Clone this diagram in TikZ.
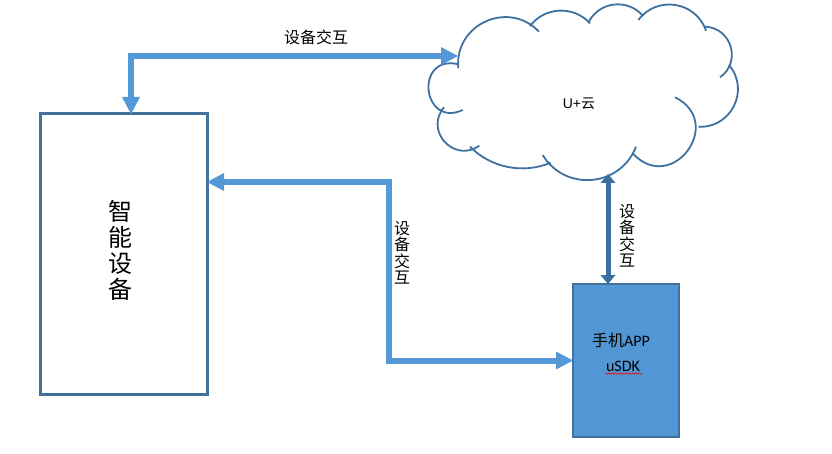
\documentclass[tikz,border=0pt]{standalone}
\usepackage{fontspec}
\setmainfont{Carlito}
\newfontfamily\cjk{Noto Sans CJK SC}
\newfontfamily\arialf{Liberation Sans}
\usetikzlibrary{arrows.meta,decorations.pathmorphing}
\definecolor{boxline}{RGB}{65,113,156}
\definecolor{arrowblue}{RGB}{84,152,215}
\definecolor{appfill}{RGB}{82,151,213}
\definecolor{darkarrow}{RGB}{60,110,160}
\definecolor{cloudcol}{RGB}{62,112,160}
\tikzset{
  devbox/.style={draw=boxline, line width=3pt, fill=white, minimum width=167pt, minimum height=280pt, inner sep=0pt, outer sep=0pt},
  appbox/.style={draw=boxline, line width=2.5pt, fill=appfill, minimum width=106pt, minimum height=153pt, inner sep=0pt, outer sep=0pt},
  bigarrow/.style={draw=arrowblue, line width=6pt, line join=miter,
    {Triangle[length=17pt,width=18pt,line width=0pt]}-{Triangle[length=17pt,width=18pt,line width=0pt]}},
  smallarrow/.style={draw=darkarrow, line width=5pt,
    {Triangle[length=9pt,width=15pt,line width=0pt]}-{Triangle[length=9pt,width=15pt,line width=0pt]}},
  cloudline/.style={draw=cloudcol, line width=1.8pt},
  lbl/.style={inner sep=0pt, font=\cjk\fontsize{16}{16.5}\selectfont, align=center},
}
\begin{document}
\begin{tikzpicture}[x=1pt,y=-1pt]
\useasboundingbox (0,0) rectangle (832,454);

% left device box
\node[devbox] (dev) at (123.5,254) {};
\node[inner sep=0pt, align=center, font=\cjk\fontsize{24}{26}\selectfont] (devtext) at (120,250) {智\\能\\设\\备};

% phone app box
\node[appbox] (app) at (626,360.5) {};
\node[inner sep=0pt, font=\fontsize{16}{18}\selectfont] (apptext) at (621,340.5) {{\cjk 手机}APP};
\node[inner sep=0pt, font=\fontsize{16}{18}\selectfont] (usdk) at (623,366.5) {uSDK};
\coordinate (sq1) at (605,373.5);
\coordinate (sq2) at (642,373.5);
\draw[red, line width=0.6pt, decorate, decoration={snake, amplitude=0.8pt, segment length=3pt}] (sq1) -- (sq2);

% cloud
\node[inner sep=0pt] (cloud) at (585,92) {};
\draw[cloudline] (462.7,110) to[bend left=108, looseness=2.45] (457.3,64);
\draw[cloudline] (479.3,145.7) to[bend left=83, looseness=1.51] (444,107.3);
\draw[cloudline] (550.7,162.7) to[bend left=34, looseness=0.93] (470,146.7);
\draw[cloudline] (636,146.7) to[bend left=64, looseness=1.18] (542.7,155);
\draw[cloudline] (675,97.3) to[bend left=100, looseness=2.06] (633.3,154);
\draw[cloudline] (729,65) to[bend left=67, looseness=1.22] (698.3,126.7);
\draw[cloudline] (705,26.7) to[bend left=71.5, looseness=1.29] (720,77.3);
\draw[cloudline] (638.3,20) to[bend left=62, looseness=1.16] (706,30.7);
\draw[cloudline] (588.3,22.7) to[bend left=57, looseness=1.10] (643,16);
\draw[cloudline] (530,26) to[bend left=50, looseness=1.04] (590,23.3);
\draw[cloudline] (458.3,68.3) to[bend left=71, looseness=1.28] (539,31.7);
\node[inner sep=0pt, font=\arialf\fontsize{14}{16}\selectfont] (cloudtext) at (579,104) {U+{\cjk 云}};

% connectors
\coordinate (cW) at (458,56);
\coordinate (tc) at (131,56);
\draw[bigarrow] (dev.north -| tc) -- (tc) -- (cW);

\coordinate (mc) at (389,182);
\draw[bigarrow] (dev.east |- mc) -- (mc) -- (mc |- app.west) -- (app.west);

\coordinate (cS) at (608,174);
\draw[smallarrow] (cS) -- (app.north -| cS);

% labels
\node[lbl] (l1) at (316,37) {设备交互};
\node[lbl] (l2) at (402,253) {设\\备\\交\\互};
\node[lbl] (l3) at (627,236) {设\\备\\交\\互};
\end{tikzpicture}
\end{document}
